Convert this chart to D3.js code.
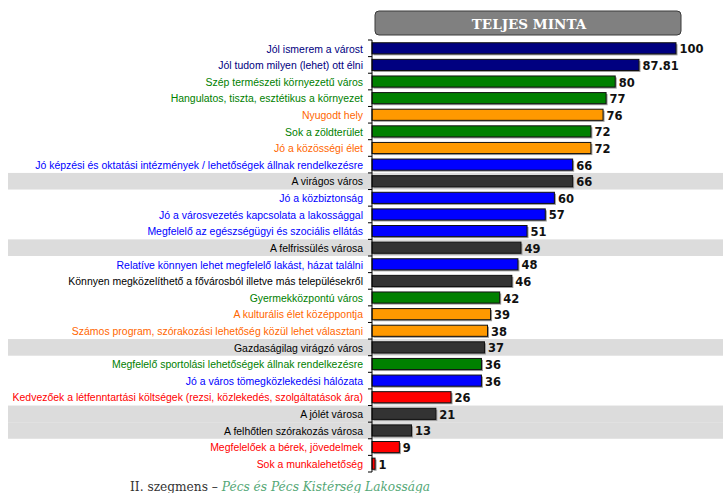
<!DOCTYPE html>
<html><head><meta charset="utf-8">
<script src="https://cdn.jsdelivr.net/npm/d3@7"></script>
<style>body{margin:0;background:#fff}svg{display:block}</style>
</head><body>
<script>
const categories = [
  "Jól ismerem a várost",
  "Jól tudom milyen (lehet) ott élni",
  "Szép természeti környezetű város",
  "Hangulatos, tiszta, esztétikus a környezet",
  "Nyugodt hely",
  "Sok a zöldterület",
  "Jó a közösségi élet",
  "Jó képzési és oktatási intézmények / lehetőségek állnak rendelkezésre",
  "A virágos város",
  "Jó a közbiztonság",
  "Jó a városvezetés kapcsolata a lakossággal",
  "Megfelelő az egészségügyi és szociális ellátás",
  "A felfrissülés városa",
  "Relatíve könnyen lehet megfelelő lakást, házat találni",
  "Könnyen megközelíthető a fővárosból illetve más településekről",
  "Gyermekközpontú város",
  "A kulturális élet középpontja",
  "Számos program, szórakozási lehetőség közül lehet választani",
  "Gazdaságilag virágzó város",
  "Megfelelő sportolási lehetőségek állnak rendelkezésre",
  "Jó a város tömegközlekedési hálózata",
  "Kedvezőek a létfenntartási költségek (rezsi, közlekedés, szolgáltatások ára)",
  "A jólét városa",
  "A felhőtlen szórakozás városa",
  "Megfelelőek a bérek, jövedelmek",
  "Sok a munkalehetőség"
];
const values = [100, 87.81, 80, 77, 76, 72, 72, 66, 66, 60, 57, 51, 49, 48, 46, 42, 39, 38, 37, 36, 36, 26, 21, 13, 9, 1];
const groups = ["know","know","nature","nature","calm","nature","calm","service","brand","service","service","service","brand","service","other","nature","calm","calm","brand","nature","service","econ","brand","brand","econ","econ"];
const highlighted = ["A virágos város","A felfrissülés városa","Gazdaságilag virágzó város","A jólét városa","A felhőtlen szórakozás városa"];
const title = "TELJES MINTA";
const footerPlain = "II. szegmens – ";
const footerItalic = "Pécs és Pécs Kistérség Lakossága";

const barColor = {know:"#000080",nature:"#008000",calm:"#ff9900",service:"#0000ff",brand:"#333333",other:"#333333",econ:"#ff0000"};
const textColor = {know:"#000080",nature:"#008000",calm:"#ff6600",service:"#0000ff",brand:"#000000",other:"#000000",econ:"#ff0000"};

const W = 723, H = 493;
const svg = d3.select("body").append("svg").attr("width", W).attr("height", H);

const x = d3.scaleLinear().domain([0, 100]).range([372, 676]);
const y = d3.scaleBand().domain(categories).range([40, 472]).paddingInner(0.33).paddingOuter(0.165);
const step = y.step();

const rows = categories.map((c, i) => ({c, v: values[i], g: groups[i]}));

// highlight bands
svg.append("g").selectAll("rect").data(rows.filter(d => highlighted.includes(d.c))).join("rect")
  .attr("x", 8).attr("width", W - 8)
  .attr("y", d => y(d.c) + y.bandwidth()/2 - step/2)
  .attr("height", step)
  .attr("fill", "#dcdcdc");

// header
const hdr = svg.append("g");
hdr.append("rect").attr("x", 375).attr("y", 11).attr("width", 306).attr("height", 24).attr("rx", 4)
  .attr("fill", "#808080").attr("stroke", "#3a3a3a").attr("stroke-width", 1);
hdr.append("text").attr("x", 529).attr("y", 28.5).attr("text-anchor", "middle")
  .attr("font-family", "'DejaVu Serif','Liberation Serif',serif").attr("font-weight", "bold")
  .attr("font-size", 13.5).attr("fill", "#ffffff").text(title);

// shadows
svg.append("g").selectAll("rect").data(rows).join("rect")
  .attr("x", x(0) + 1.5).attr("y", d => y(d.c) + 1.5)
  .attr("width", d => x(d.v) - x(0)).attr("height", y.bandwidth())
  .attr("fill", "#9a9a9a");

// bars
svg.append("g").selectAll("rect").data(rows).join("rect")
  .attr("x", x(0)).attr("y", d => y(d.c))
  .attr("width", d => x(d.v) - x(0)).attr("height", y.bandwidth())
  .attr("fill", d => barColor[d.g]).attr("stroke", "#111").attr("stroke-width", 1);

// axis
const axis = d3.axisLeft(y).tickSize(0).tickFormat("");
const ag = svg.append("g").attr("transform", `translate(${x(0)},0)`).call(axis);
ag.select(".domain").attr("stroke", "#000").attr("d", `M0,${40}V${472}`);
const bounds = categories.map(c => y(c) + y.bandwidth()/2 - step/2).concat([472]);
ag.selectAll(".bt").data(bounds).join("line").attr("class","bt")
  .attr("x1", -4).attr("x2", 0).attr("y1", d => d).attr("y2", d => d).attr("stroke", "#000");

// labels (horizontally condensed, like a narrow sans)
svg.append("g").selectAll("text").data(rows).join("text")
  .attr("transform", d => `translate(363,${y(d.c) + y.bandwidth()/2 + 4.2}) scale(0.91,1)`)
  .attr("text-anchor", "end")
  .attr("font-family", "'Liberation Sans',Arial,sans-serif")
  .attr("font-size", 11.5)
  .attr("fill", d => textColor[d.g]).text(d => d.c);

// value labels
svg.append("g").selectAll("text").data(rows).join("text")
  .attr("x", d => x(d.v) + 3.5).attr("y", d => y(d.c) + y.bandwidth()/2 + 5)
  .attr("font-family", "'DejaVu Sans',Verdana,sans-serif").attr("font-weight", "bold")
  .attr("font-size", 11.5).attr("fill", "#111").text(d => d.v);

// footer
const ft = svg.append("text").attr("x", 130).attr("y", 491)
  .attr("font-family", "'DejaVu Serif','Liberation Serif',serif").attr("font-size", 12.2);
ft.append("tspan").attr("fill", "#333").text(footerPlain);
ft.append("tspan").attr("fill", "#55a877").attr("font-style", "italic").text(footerItalic);
</script>
</body></html>
